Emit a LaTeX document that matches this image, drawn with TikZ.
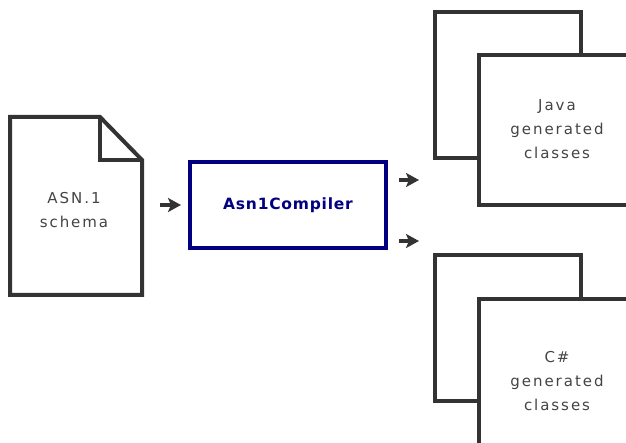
\documentclass[tikz,border=0pt]{standalone}
\usepackage{fontspec}
\setmainfont{DejaVu Sans}
\newfontfamily\graytext[LetterSpace=13]{DejaVu Sans}
\newfontfamily\boldtext[LetterSpace=5]{DejaVu Sans Bold}
\usetikzlibrary{arrows.meta}
\definecolor{edge}{HTML}{333333}
\definecolor{txt}{HTML}{444444}
\definecolor{navyc}{HTML}{000080}
\tikzset{
  paper/.style={draw=edge, line width=4pt, fill=white},
  label/.style={align=center, text=txt, font=\graytext\fontsize{15}{24}\selectfont, inner sep=0pt},
  compbox/.style={draw=navyc, line width=4.5pt, fill=white, minimum width=196pt, minimum height=86pt,
    text=navyc, font=\boldtext\fontsize{15.5}{18}\selectfont},
  arr/.style={draw=edge, line width=3.5pt, -{Stealth[length=13pt,width=14pt,inset=3pt]}},
}
\begin{document}
\begin{tikzpicture}[x=1pt,y=-1pt]
\clip (0,0) rectangle (626,443);
\fill[white] (0,0) rectangle (626,443);
% document
\draw[paper, line join=miter] (10,117) -- (100,117) -- (142,160) -- (142,295) -- (10,295) -- cycle;
\draw[edge, line width=4pt] (100,117) -- (100,160) -- (142,160);
\node[label] (doc) at (74,210) {ASN.1\\schema};
% compiler
\node[compbox] (comp) at (288,205) {Asn1Compiler};
% java
\draw[paper] (435,12) rectangle (581,158);
\draw[paper] (479,55) rectangle (650,205);
\node[label] (java) at (557,129) {Java\\generated\\classes};
% C#
\draw[paper] (435,255) rectangle (581,401);
\draw[paper] (479,299) rectangle (650,470);
\node[label] (cs) at (557,381) {C\#\\generated\\classes};
% arrows
\coordinate (a1s) at (160,205);
\coordinate (a1e) at (181,205);
\draw[arr] (a1s) -- (a1e);
\coordinate (a2s) at (399,180);
\coordinate (a2e) at (419,180);
\draw[arr] (a2s) -- (a2e);
\coordinate (a3s) at (399,241);
\coordinate (a3e) at (419,241);
\draw[arr] (a3s) -- (a3e);
\end{tikzpicture}
\end{document}
